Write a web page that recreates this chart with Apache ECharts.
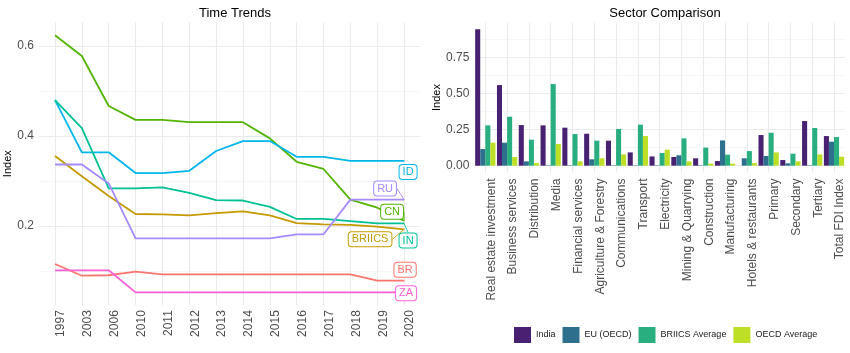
<!DOCTYPE html>
<html>
<head>
<meta charset="utf-8">
<script src="https://cdn.jsdelivr.net/npm/echarts@6/dist/echarts.min.js"></script>
<style>
html, body { margin: 0; padding: 0; background: #fff; }
#chart { width: 850px; height: 353px; }
</style>
</head>
<body>
<div id="chart"></div>
<script>
// left panel: index by year
const years = ["1997", "2003", "2006", "2010", "2011", "2012", "2013", "2014", "2015", "2016", "2017", "2018", "2019", "2020"];
const countries = ["BR", "BRIICS", "CN", "ID", "IN", "RU", "ZA"];
const br = [0.116, 0.090, 0.091, 0.099, 0.093, 0.093, 0.093, 0.093, 0.093, 0.093, 0.093, 0.093, 0.079, 0.079];
const briics = [0.356, 0.311, 0.267, 0.227, 0.226, 0.224, 0.229, 0.233, 0.224, 0.207, 0.204, 0.203, 0.199, 0.193];
const cn = [0.624, 0.578, 0.467, 0.436, 0.436, 0.431, 0.431, 0.431, 0.395, 0.343, 0.327, 0.259, 0.241, 0.212];
const id = [0.480, 0.364, 0.364, 0.318, 0.318, 0.323, 0.367, 0.389, 0.389, 0.354, 0.354, 0.345, 0.345, 0.345];
const inn = [0.480, 0.418, 0.284, 0.284, 0.286, 0.274, 0.258, 0.257, 0.243, 0.216, 0.216, 0.211, 0.206, 0.206];
const ru = [0.337, 0.337, 0.295, 0.173, 0.173, 0.173, 0.173, 0.173, 0.173, 0.182, 0.182, 0.259, 0.259, 0.259];
const za = [0.102, 0.102, 0.102, 0.053, 0.053, 0.053, 0.053, 0.053, 0.053, 0.053, 0.053, 0.053, 0.053, 0.053];
const trendTicks = [0.2, 0.4, 0.6];
const trendMinor = [0.1, 0.3, 0.5];

// right panel: sector comparison
const sectors = ["Real estate investment", "Business services", "Distribution", "Media", "Financial services",
    "Agriculture & Forestry", "Communications", "Transport", "Electricity", "Mining & Quarrying", "Construction",
    "Manufacturing", "Hotels & restaurants", "Primary", "Secondary", "Tertiary", "Total FDI Index"];
const groups = ["India", "EU (OECD)", "BRIICS Average", "OECD Average"];
const india = [0.944, 0.558, 0.281, 0.279, 0.263, 0.221, 0.173, 0.092, 0.064, 0.060, 0.051, 0.032, 0, 0.212, 0.039, 0.309, 0.205];
const eu = [0.115, 0.159, 0.030, 0.003, 0.003, 0.044, 0.003, 0.003, 0.003, 0.072, 0.003, 0.175, 0.051, 0.067, 0.016, 0.003, 0.166];
const briicsAvg = [0.279, 0.339, 0.180, 0.565, 0.219, 0.173, 0.254, 0.284, 0.088, 0.189, 0.125, 0.076, 0.101, 0.228, 0.083, 0.261, 0.198];
const oecdAvg = [0.159, 0.060, 0.018, 0.150, 0.030, 0.051, 0.078, 0.205, 0.111, 0.030, 0.014, 0.014, 0.018, 0.092, 0.030, 0.078, 0.062];
const sectorTicks = [0, 0.25, 0.5, 0.75];
const sectorMinor = [0.125, 0.375, 0.625, 0.875];

const font = "Liberation Sans, Arial, sans-serif";
const axisText = "#4d4d4d";
const majorGrid = { color: "#ebebeb", width: 1.1 };
const minorGrid = { color: "#f3f3f3", width: 0.7 };

const lineColors = {
    BR: "#F8766D", BRIICS: "#C49A00", CN: "#53B400", ID: "#00B6EB",
    IN: "#00C094", RU: "#A58AFF", ZA: "#FB61D7",
};
// where each end label sits relative to its line end (px)
const labelNudge = {
    BR: [1, -11, false], BRIICS: [-34, 10, true], CN: [-12, -9, true], ID: [4, 11, false],
    IN: [4, 17, true], RU: [-19, -11, true], ZA: [2, 1, false],
};
const barColors = ["#482173", "#2E6F8E", "#29AF7F", "#BDDF26"];

const trendValues = [br, briics, cn, id, inn, ru, za];
const yearIdx = years.map((_, i) => i);
const sectorIdx = sectors.map((_, i) => i);

const lineSeries = countries.map((name, k) => {
    const vals = trendValues[k];
    const color = lineColors[name];
    const [dx, dy, guide] = labelNudge[name];
    return {
        type: "line",
        name,
        xAxisIndex: 0,
        yAxisIndex: 0,
        showSymbol: true,
        color,
        lineStyle: { width: 1.8, color },
        z: 3,
        data: vals.map((v, i) => i === vals.length - 1
            ? {
                value: [i, v], symbol: "circle", symbolSize: 1,
                label: {
                    show: true, position: "inside", formatter: name,
                    color, fontSize: 11, fontFamily: font,
                    backgroundColor: "#fff", borderColor: color, borderWidth: 1,
                    borderRadius: 3, padding: [2, 3, 1, 3],
                },
            }
            : { value: [i, v], symbol: "none" }),
        labelLayout: { dx, dy },
        labelLine: { show: guide, lineStyle: { color, width: 0.9 } },
    };
});

const barSeries = [india, eu, briicsAvg, oecdAvg].map((vals, k) => ({
    type: "bar",
    name: groups[k],
    xAxisIndex: 1,
    yAxisIndex: 2,
    data: vals,
    barGap: "0%",
    barCategoryGap: "7%",
    itemStyle: { color: barColors[k] },
}));

const chart = echarts.init(document.getElementById("chart"), null, { renderer: "canvas" });

chart.setOption({
    animation: false,
    textStyle: { fontFamily: font },
    title: [
        { text: "Time Trends", left: 230, top: 2, textAlign: "center",
          textStyle: { fontSize: 13, fontWeight: "normal", color: "#000", fontFamily: font } },
        { text: "Sector Comparison", left: 660, top: 2, textAlign: "center",
          textStyle: { fontSize: 13, fontWeight: "normal", color: "#000", fontFamily: font } },
    ],
    legend: {
        data: groups,
        left: 509,
        top: 322,
        icon: "rect",
        itemWidth: 17,
        itemHeight: 16,
        itemGap: 7,
        textStyle: { fontSize: 9, color: "#1a1a1a", fontFamily: font },
    },
    grid: [
        { left: 38.9, width: 381.3, top: 22.2, height: 283 },
        { left: 474.4, width: 370.5, top: 22.5, height: 150 },
    ],
    xAxis: [
        {
            type: "value", gridIndex: 0, min: -0.6, max: 13.6,
            axisLine: { show: false },
            axisTick: { show: false, customValues: yearIdx },
            axisLabel: {
                customValues: yearIdx, formatter: v => years[Math.round(v)],
                rotate: 90, fontSize: 12, color: axisText, margin: 5, verticalAlign: "top",
            },
            splitLine: { show: true, lineStyle: majorGrid },
        },
        {
            type: "category", gridIndex: 1, data: sectors,
            axisLine: { show: false },
            axisTick: { show: false },
            axisLabel: { interval: 0, rotate: 90, fontSize: 12, color: axisText, margin: 6, verticalAlign: "top" },
            splitLine: { show: false },
        },
        {
            type: "value", gridIndex: 1, min: -0.5, max: 16.5, position: "top",
            axisLine: { show: false },
            axisTick: { show: false, customValues: sectorIdx },
            axisLabel: { show: false },
            splitLine: { show: true, lineStyle: majorGrid },
        },
    ],
    yAxis: [
        {
            type: "value", gridIndex: 0, min: 0.0245, max: 0.653,
            axisLine: { show: false },
            axisTick: { show: false, customValues: trendTicks },
            axisLabel: { customValues: trendTicks, formatter: v => v.toFixed(1), fontSize: 12, color: axisText, margin: 5 },
            splitLine: { show: true, lineStyle: majorGrid },
            name: "Index", nameLocation: "middle", nameGap: 21,
            nameTextStyle: { fontSize: 11, color: "#000" },
        },
        {
            type: "value", gridIndex: 0, min: 0.0245, max: 0.653, position: "left",
            axisLine: { show: false },
            axisTick: { show: false, customValues: trendMinor },
            axisLabel: { show: false },
            splitLine: { show: true, lineStyle: minorGrid },
        },
        {
            type: "value", gridIndex: 1, min: -0.0472, max: 0.991,
            axisLine: { show: false },
            axisTick: { show: false, customValues: sectorTicks },
            axisLabel: { customValues: sectorTicks, formatter: v => v.toFixed(2), fontSize: 12, color: axisText, margin: 5 },
            splitLine: { show: true, lineStyle: majorGrid },
            name: "Index", nameLocation: "middle", nameGap: 32,
            nameTextStyle: { fontSize: 11, color: "#000" },
        },
        {
            type: "value", gridIndex: 1, min: -0.0472, max: 0.991, position: "left",
            axisLine: { show: false },
            axisTick: { show: false, customValues: sectorMinor },
            axisLabel: { show: false },
            splitLine: { show: true, lineStyle: minorGrid },
        },
    ],
    series: [...lineSeries, ...barSeries],
});
</script>
</body>
</html>
